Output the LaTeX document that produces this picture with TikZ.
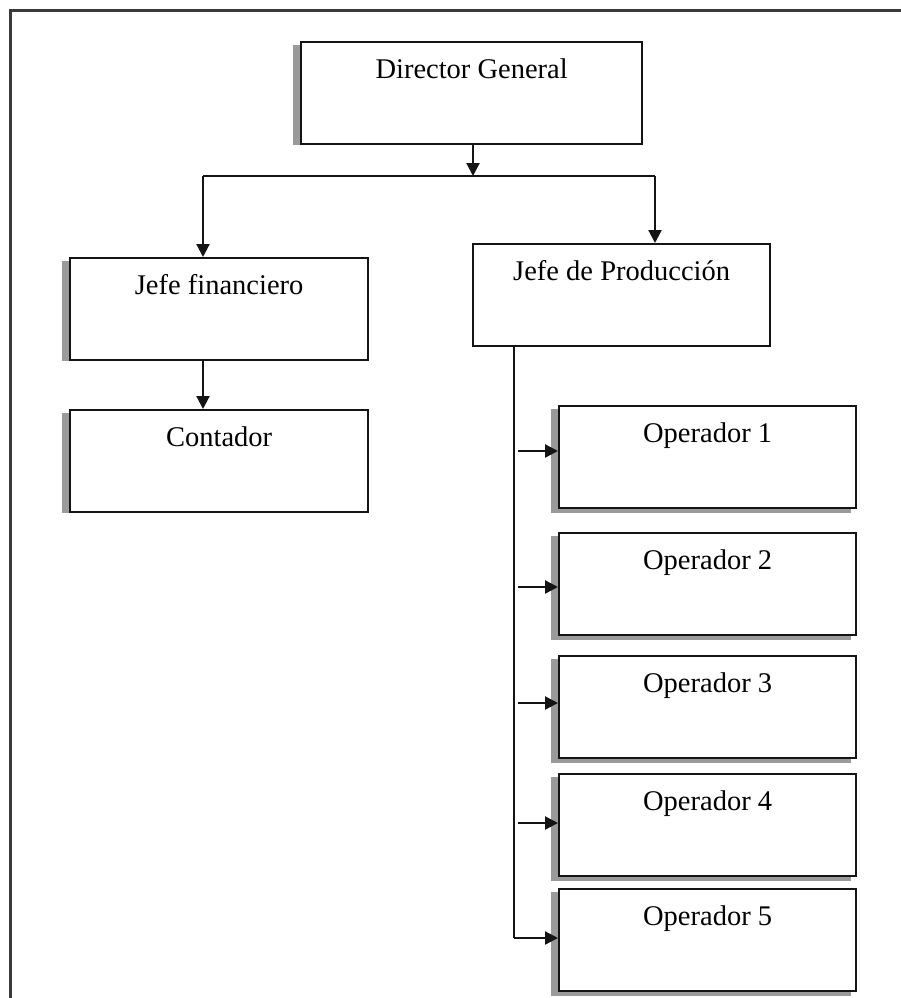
\documentclass[tikz,border=0pt]{standalone}
\usepackage{fontspec}
\setmainfont{Liberation Serif}
\usetikzlibrary{arrows.meta,calc,backgrounds}
\definecolor{boxline}{HTML}{141414}
\definecolor{shadowgray}{HTML}{9A9A9A}
\definecolor{framecol}{HTML}{3A3A3A}
\begin{document}
\begin{tikzpicture}[x=1pt,y=-1pt,
  orgbox/.style={draw=boxline, line width=2.3pt, fill=white, inner sep=0pt,
    text height=36pt, text depth=66pt, minimum width=297pt, anchor=north west,
    font=\fontsize{28.5}{34}\selectfont},
  shade/.style={fill=shadowgray, draw=none},
  link/.style={draw=boxline, line width=2.2pt},
  arr/.style={link, -{Triangle[length=13pt,width=13pt]}}]
\useasboundingbox (0,0) rectangle (900,998);
% outer frame
\draw[draw=framecol, line width=3pt] (10,1010) -- (10,11) -- (910,11);

% boxes
\node[orgbox, minimum width=341pt] (dg) at (300,41) {Director General};
\node[orgbox, minimum width=298pt] (jf) at (69,257) {Jefe financiero};
\node[orgbox, minimum width=298pt] (ct) at (69,409) {Contador};
\node[orgbox] (jp) at (472,243) {Jefe de Producción};
\node[orgbox] (op1) at (558,405) {Operador 1};
\node[orgbox] (op2) at (558,532) {Operador 2};
\node[orgbox] (op3) at (558,655) {Operador 3};
\node[orgbox] (op4) at (558,773) {Operador 4};
\node[orgbox] (op5) at (558,888) {Operador 5};

% shadows
\begin{scope}[on background layer]
  \foreach \b in {dg,jf,ct}
    \fill[shade] ($(\b.north west)+(-7,4)$) rectangle (\b.south west);
  \foreach \b in {op1,op2,op3,op4,op5}
    \fill[shade] ($(\b.north west)+(-7,4)$) rectangle ($(\b.south east)+(-6,4)$);
\end{scope}

% connectors
\coordinate (hl) at (203,176);
\coordinate (hr) at (655,176);
\coordinate (dgo) at (473,143);
\draw[arr] (dgo) -- (dgo |- hl);
\draw[link] (hl) -- (hr);
\draw[arr] (hr) -- (hr |- jp.north);
\draw[arr] (hl) -- (hl |- jf.north);
\draw[arr] (hl |- jf.south) -- (hl |- ct.north);

\coordinate (vt) at (514,345);
\coordinate (vb) at (514,938);
\draw[link] (vt |- jp.south) -- (vb);
\draw[arr] (vb) -- (vb -| op5.west);
\coordinate (s1) at (518,451);
\coordinate (s2) at (518,587);
\coordinate (s3) at (518,703);
\coordinate (s4) at (518,823);
\draw[arr] (s1) -- (s1 -| op1.west);
\draw[arr] (s2) -- (s2 -| op2.west);
\draw[arr] (s3) -- (s3 -| op3.west);
\draw[arr] (s4) -- (s4 -| op4.west);
\end{tikzpicture}
\end{document}
